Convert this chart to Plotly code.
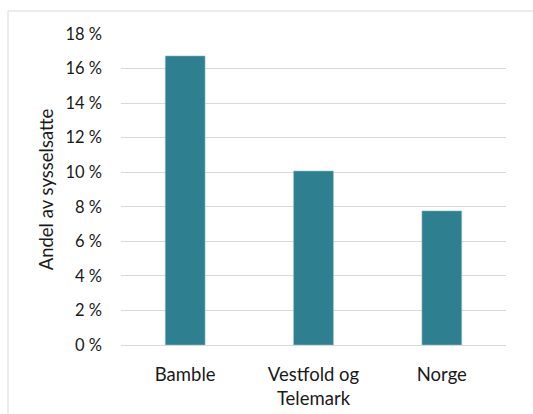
import plotly.graph_objects as go

categories = ["Bamble", "Vestfold og<br>Telemark", "Norge"]
values = [16.73, 10.07, 7.76]
tick_vals = [0, 2, 4, 6, 8, 10, 12, 14, 16, 18]
tick_text = [f"{v} %" for v in tick_vals]

fig = go.Figure(go.Bar(
    x=categories, y=values,
    marker=dict(color="#2E7F8F", line=dict(color="#8FBFC8", width=0.6)),
    width=0.31,
    hoverinfo="skip",
))

fig.update_layout(
    width=533, height=414,
    margin=dict(l=121, r=27, t=34, b=69),
    paper_bgcolor="white", plot_bgcolor="white",
    font=dict(family="Lato, Carlito, Calibri, sans-serif", size=16, color="#1a1a1a"),
    showlegend=False,
    shapes=[dict(type="rect", xref="paper", yref="paper",
                 x0=-113/385, x1=1.2, y0=-0.5, y1=1 + 23/311,
                 line=dict(color="#d9d9d9", width=1), fillcolor="rgba(0,0,0,0)", layer="below")],
)
fig.update_yaxes(
    range=[0, 18], tickvals=tick_vals, ticktext=tick_text,
    showgrid=True, gridcolor="#d9d9d9", gridwidth=1,
    zeroline=False, showline=False, ticks="", ticklen=0,
    tickfont=dict(size=16.5), ticklabelstandoff=18, automargin=False,
    title=dict(text="Andel av sysselsatte", standoff=6, font=dict(size=18.5)),
)
fig.update_xaxes(
    showline=True, linecolor="#d9d9d9", ticks="", showgrid=False,
    tickfont=dict(size=18.5), ticklabelstandoff=13, automargin=False,
)

fig.write_html("out.html", config={"displayModeBar": False},
               post_script="document.body.style.margin='0';")
